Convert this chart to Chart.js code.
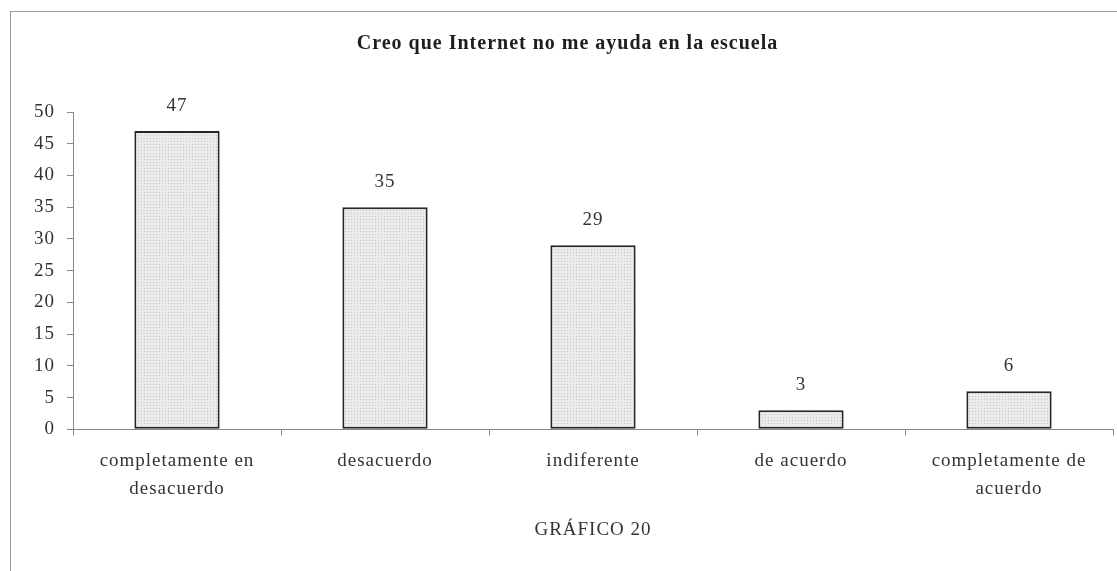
<!DOCTYPE html>
<html>
<head>
<meta charset="utf-8">
<script src="https://cdn.jsdelivr.net/npm/chart.js@4"></script>
<style>
  body { margin: 0; background: #fff; }
  #wrap { position: relative; width: 1117px; height: 571px; }
  #frame { position: absolute; left: 10px; top: 11px; right: -2px; bottom: -2px;
    border-top: 1px solid #9a9a9a; border-left: 1px solid #9a9a9a; }
  canvas { position: absolute; left: 0; top: 0; }
</style>
</head>
<body>
<div id="wrap">
  <div id="frame"></div>
  <canvas id="chart" width="1117" height="571"></canvas>
</div>
<script>
const titleText = "Creo que Internet no me ayuda en la escuela";
const categories = [
  ["completamente en", "desacuerdo"],
  "desacuerdo",
  "indiferente",
  "de acuerdo",
  ["completamente de", "acuerdo"]
];
const values = [47, 35, 29, 3, 6];
const xAxisTitle = "GRÁFICO 20";

const serif = "'Liberation Serif', 'Times New Roman', serif";

// dotted grey fill like the scanned print
function dotPattern() {
  const c = document.createElement("canvas");
  c.width = 3; c.height = 3;
  const g = c.getContext("2d");
  g.fillStyle = "#ebebeb";
  g.fillRect(0, 0, 3, 3);
  g.fillStyle = "#c4c4c4";
  g.fillRect(0, 0, 1, 1);
  return g.createPattern(c, "repeat");
}

// the printed text is a bit spaced out
const spacing = {
  id: "spacing",
  beforeUpdate(chart) { chart.ctx.letterSpacing = "1px"; },
  beforeDraw(chart) { chart.ctx.letterSpacing = "1px"; }
};

const valueLabels = {
  id: "valueLabels",
  afterDatasetsDraw(chart) {
    const ctx = chart.ctx;
    ctx.save();
    ctx.font = "19px " + serif;
    ctx.fillStyle = "#333";
    ctx.textAlign = "center";
    ctx.textBaseline = "alphabetic";
    chart.getDatasetMeta(0).data.forEach((bar, i) => {
      ctx.fillText(values[i], bar.x, bar.y - 20);
    });
    ctx.restore();
  }
};

const ctx = document.getElementById("chart").getContext("2d");
new Chart(ctx, {
  type: "bar",
  data: {
    labels: categories,
    datasets: [{
      data: values,
      backgroundColor: dotPattern(),
      borderColor: "#262626",
      borderWidth: 2,
      borderSkipped: false,
      barPercentage: 0.41,
      categoryPercentage: 1
    }]
  },
  options: {
    responsive: false,
    animation: false,
    layout: { padding: { left: 22, right: 4, top: 0, bottom: 26 } },
    plugins: {
      legend: { display: false },
      tooltip: { enabled: false },
      title: {
        display: true,
        text: titleText,
        color: "#1e1e1e",
        font: { family: serif, size: 20, weight: "bold" },
        padding: { top: 32, bottom: 56 }
      }
    },
    scales: {
      x: {
        grid: { display: true, drawOnChartArea: false, tickLength: 6, color: "#888" },
        border: { color: "#888", width: 1 },
        ticks: {
          color: "#333",
          font: { family: serif, size: 19, lineHeight: 1.47 },
          padding: 12,
          maxRotation: 0
        },
        title: {
          display: true,
          text: xAxisTitle,
          color: "#333",
          font: { family: serif, size: 19 },
          padding: { top: 3 }
        }
      },
      y: {
        min: 0,
        max: 50,
        ticks: {
          stepSize: 5,
          color: "#333",
          font: { family: serif, size: 19 },
          padding: 12
        },
        grid: { display: true, drawOnChartArea: false, tickLength: 6, color: "#888" },
        border: { color: "#888", width: 1 }
      }
    }
  },
  plugins: [spacing, valueLabels]
});
</script>
</body>
</html>
